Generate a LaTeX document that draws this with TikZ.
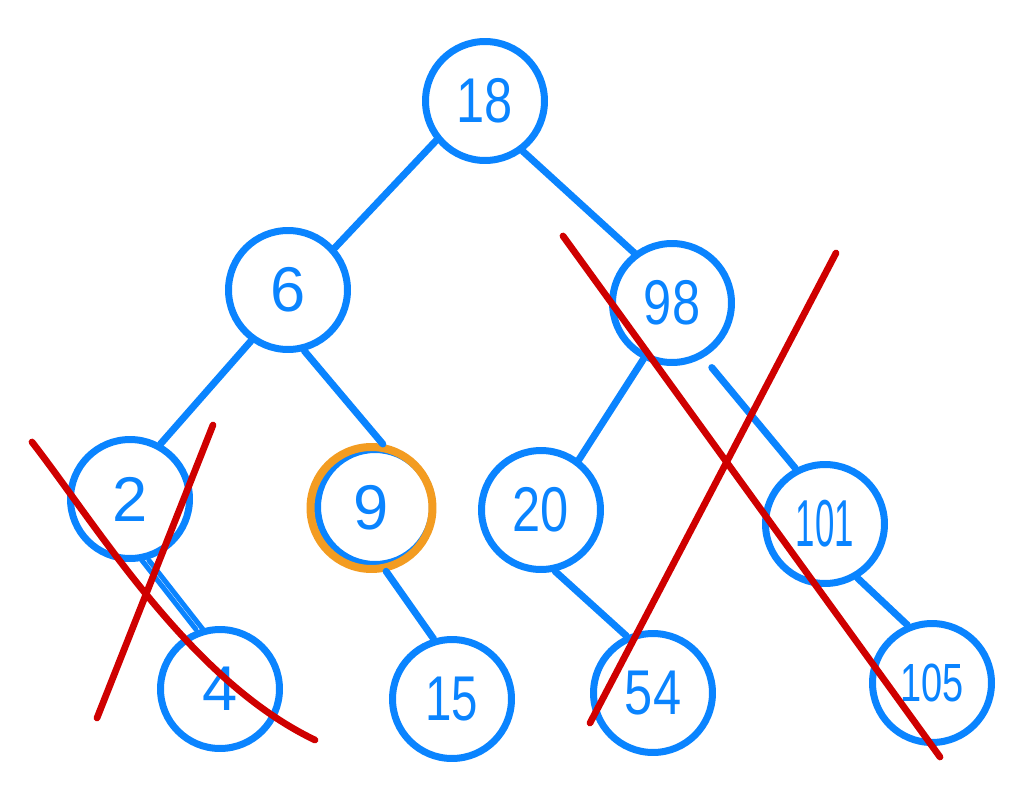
\documentclass[tikz,border=0pt]{standalone}
\usepackage{fontspec}
\setmainfont{Liberation Sans}
\definecolor{tblue}{HTML}{0A84FF}
\definecolor{tred}{HTML}{CF0000}
\definecolor{torange}{HTML}{F39C21}
\begin{document}
\begin{tikzpicture}[x=0.02cm,y=-0.02cm,
  tnode/.style={circle,draw=tblue,line width=0.14cm,minimum size=2.38cm,inner sep=0pt,
     text=tblue,font=\fontsize{36}{36}\selectfont},
  tedge/.style={draw=tblue,line width=0.14cm,line cap=round},
  cross/.style={draw=tred,line width=0.135cm,line cap=round}]
\useasboundingbox (0,0) rectangle (1024,794);
\fill[white] (0,0) rectangle (1024,794);
\node[tnode] (n18) at (485,101) {\scalebox{0.8}[1]{18}};
\node[tnode] (n6) at (288,290) {6};
\node[tnode] (n98) at (672,303) {\scalebox{0.8}[1]{98}};
\node[tnode] (n2) at (130,499) {2};
\node[tnode,minimum size=2.3cm] (n9b) at (375,507) {};
\node[circle,draw=torange,line width=0.16cm,minimum size=2.44cm,inner sep=0pt,
   text=tblue,font=\fontsize{36}{36}\selectfont] (n9) at (371.5,508) {9};
\node[tnode] (n20) at (541,510) {\scalebox{0.8}[1]{20}};
\node[tnode] (n101) at (825,524) {\scalebox{0.55}[1.05]{101}};
\node[tnode] (n4) at (220,689) {4};
\node[tnode] (n15) at (452,699) {\scalebox{0.75}[1]{15}};
\node[tnode] (n54) at (653,693) {\scalebox{0.8}[1]{54}};
\node[tnode] (n105) at (932,683) {\scalebox{0.6}[0.85]{105}};
\path[tedge] (n18.219) -- (n6.42);
\path[tedge] (n18.-53) -- (n98.127);
\path[tedge] (n6.234) -- (n2.61);
\path[tedge] (n6.-75) -- (n9.80);
\path[tedge] (n98.243) -- (n20.53);
\path[tedge,shorten <=0.26cm] (n98.-60) -- (n101.118);
\path[tedge,line width=0.1cm,transform canvas={xshift=-0.07cm}] (n2.-76) -- (n4.109);
\path[tedge,line width=0.1cm,transform canvas={xshift=0.07cm}] (n2.-76) -- (n4.109);
\path[tedge] (n9.-77) -- (n15.107);
\path[tedge] (n20.-77) -- (n54.115);
\path[tedge] (n101.-59) -- (n105.113);
\coordinate (r1a) at (32,442);
\coordinate (r1b) at (315,740);
\coordinate (r2a) at (213,425);
\coordinate (r2b) at (97,718);
\coordinate (r3a) at (563,236);
\coordinate (r3b) at (940,757);
\coordinate (r4a) at (836,253);
\coordinate (r4b) at (590,723);
\path[cross] (r1a) .. controls (100,530) and (190,680) .. (r1b);
\path[cross] (r2a) -- (r2b);
\path[cross] (r3a) -- (r3b);
\path[cross] (r4a) -- (r4b);
\end{tikzpicture}
\end{document}
